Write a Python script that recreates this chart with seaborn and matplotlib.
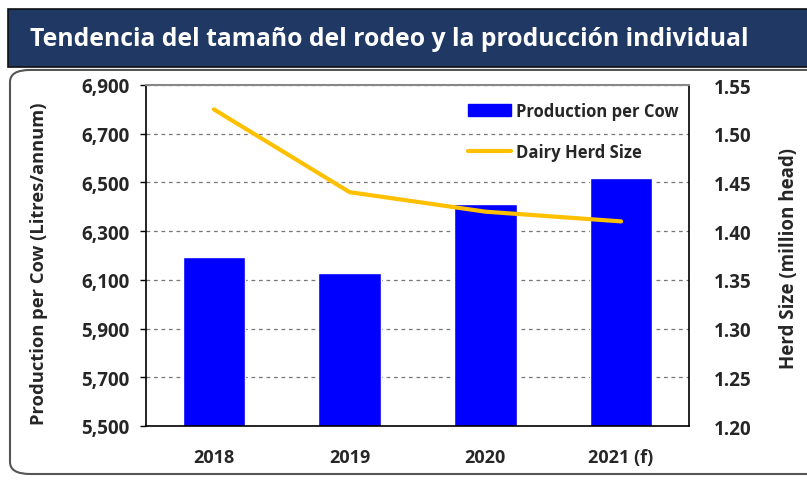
import seaborn as sns
import matplotlib.pyplot as plt
import numpy as np
import pandas as pd
from matplotlib.patches import FancyBboxPatch, Rectangle
from matplotlib.lines import Line2D
from matplotlib.ticker import FuncFormatter

years = ['2018', '2019', '2020', '2021 (f)']
production = [6195, 6130, 6410, 6520]
herd_size = [1.525, 1.44, 1.42, 1.41]

sns.set_theme(style='white')
plt.rcParams['font.family'] = ['Open Sans', 'DejaVu Sans']
plt.rcParams['font.weight'] = 'bold'

df = pd.DataFrame({'year': years, 'production': production, 'herd': herd_size,
                   'pos': np.arange(len(years))})

fig = plt.figure(figsize=(8.07, 4.81), dpi=100)
ax = fig.add_axes([146 / 807, 1 - 427 / 481, (689 - 146) / 807, (427 - 86) / 481])

# frame and title banner
fig.patches.append(FancyBboxPatch((10 / 807, 6 / 481), 1.2, 0.84, boxstyle='round,pad=0,rounding_size=0.025',
                                  transform=fig.transFigure, fill=False, edgecolor='#555555', lw=1.5, zorder=0))
fig.patches.append(Rectangle((8 / 807, 1 - 68 / 481), 1.0, 58 / 481, transform=fig.transFigure,
                             facecolor='#203864', edgecolor='#111111', lw=1.2, zorder=1))
fig.text(30 / 807, 1 - 40 / 481, 'Tendencia del tamaño del rodeo y la producción individual',
         color='white', fontsize=17.8, fontweight='bold', va='center', ha='left')

sns.barplot(data=df, x='year', y='production', color='#0000FF', saturation=1, width=0.46, ax=ax, zorder=2)
ax.set_ylim(5500, 6900)
ax.set_xlim(-0.5, 3.5)
ax.set_yticks(np.arange(5500, 6901, 200))
ax.yaxis.set_major_formatter(FuncFormatter(lambda v, p: f'{int(v):,}'))
ax.grid(axis='y', linestyle=(0, (3, 3)), color='#777777', lw=0.9, zorder=0)
ax.set_axisbelow(True)
ax.set_xlabel('')
ax.set_ylabel('Production per Cow (Litres/annum)', fontsize=13.2, fontweight='bold')
ax.yaxis.set_label_coords(-0.181, 0.48)
ax.tick_params(axis='y', left=True, length=4, width=1, color='black', labelsize=13.5, pad=8)
ax.tick_params(axis='x', bottom=False, labelsize=13, pad=10)
for s in ['left', 'bottom', 'right']:
    ax.spines[s].set_color('black')
    ax.spines[s].set_linewidth(1.2)
ax.spines['top'].set_color('#888888')
ax.spines['top'].set_linewidth(1.5)

ax2 = ax.twinx()
sns.lineplot(data=df, x='pos', y='herd', color='#FFC000', lw=3, ax=ax2, zorder=3)
ax2.set_ylim(1.20, 1.55)
ax2.set_xlim(-0.5, 3.5)
ax2.set_yticks(np.arange(1.20, 1.551, 0.05))
ax2.yaxis.set_major_formatter(FuncFormatter(lambda v, p: f'{v:.2f}'))
ax2.set_ylabel('Herd Size (million head)', fontsize=13.5, fontweight='bold')
ax2.yaxis.set_label_coords(1.165, 0.494)
ax2.tick_params(axis='y', right=False, labelsize=13.5, pad=12)
ax2.grid(False)
for s in ax2.spines.values():
    s.set_visible(False)

handles = [Rectangle((0, 0), 1, 1, color='#0000FF'), Line2D([], [], color='#FFC000', lw=3)]
ax2.legend(handles, ['Production per Cow', 'Dairy Herd Size'], loc='upper right', frameon=False,
           bbox_to_anchor=(1.0, 0.98), handlelength=2.6, handleheight=0.75, labelspacing=1.4,
           borderaxespad=0.3, handletextpad=0.3, borderpad=0.3, prop={'weight': 'bold', 'size': 12})

fig.savefig('out.png', dpi=100)
